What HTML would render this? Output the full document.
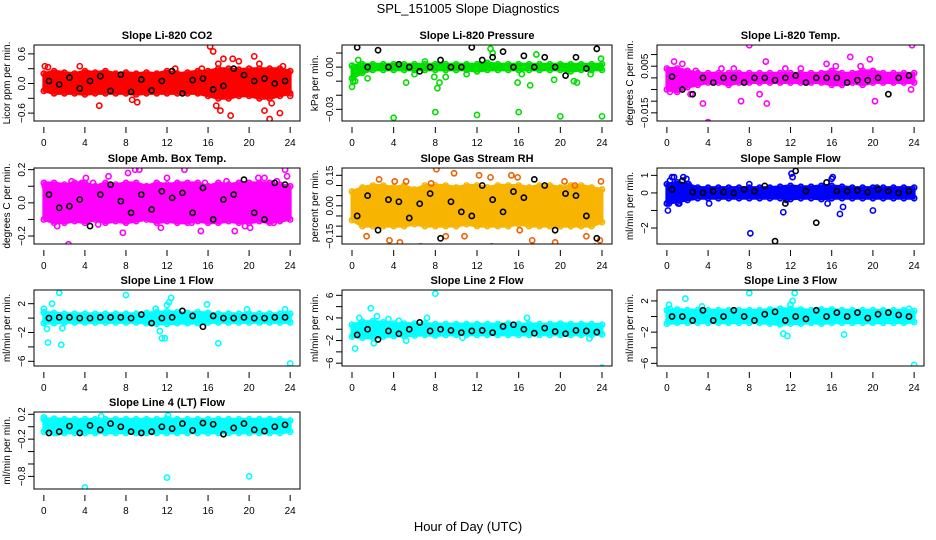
<!DOCTYPE html>
<html><head><meta charset="utf-8"><style>
body{margin:0;background:#fff}
svg{display:block;font-family:"Liberation Sans",sans-serif}
</style></head><body>
<svg id="chart" width="936" height="540" viewBox="0 0 936 540">
<text x="468" y="13" text-anchor="middle" font-size="13">SPL_151005  Slope Diagnostics</text>
<text x="468" y="531" text-anchor="middle" font-size="13">Hour of Day (UTC)</text>
</svg>
<script>
const xTicks=[0,4,8,12,16,20,24];
// Panel 1 CO2
const co2Hi=[0.2,0.25,0.22,0.2,0.25,0.22,0.25,0.2,0.22,0.2,0.22,0.2,0.25,0.2,0.22,0.25,0.25,0.3,0.3,0.28,0.3,0.3,0.3,0.3,0.25];
const co2Lo=[-0.15,-0.2,-0.2,-0.2,-0.22,-0.2,-0.2,-0.2,-0.2,-0.22,-0.2,-0.2,-0.2,-0.2,-0.2,-0.2,-0.25,-0.3,-0.3,-0.25,-0.25,-0.3,-0.3,-0.25,-0.2];
const co2OutX=[0.1,0.4,3.5,5.4,8.6,9.1,16.2,16.5,17,17.5,17.2,18.2,18.4,20.5,21.5,22,22.2,23,24,16.8,19,21,23.3,12.8,15.4];
const co2OutY=[0.35,0.33,0.35,-0.45,-0.33,-0.38,0.75,0.65,0.4,0.5,-0.55,-0.65,0.5,0.55,-0.55,-0.72,-0.4,-0.6,-0.25,-0.45,0.45,0.4,0.35,0.3,0.3];
const co2Mean=[0.05,-0.02,0.12,-0.1,0.05,0.15,-0.15,0.18,-0.17,0.08,-0.14,0.05,0.25,-0.2,0.07,0.1,-0.12,-0.05,0.3,0.17,0.05,0.1,0.0,0.05];
// Panel 2 Pressure
const presHi=[0.001,0.002,0.002,0.002,0.002,0.002,0.002,0.002,0.002,0.002,0.002,0.002,0.002,0.003,0.002,0.002,0.002,0.002,0.002,0.002,0.002,0.002,0.002,0.002,0.002];
const presLo=[-0.008,-0.004,-0.002,-0.002,-0.002,-0.002,-0.002,-0.002,-0.002,-0.002,-0.002,-0.002,-0.003,-0.002,-0.002,-0.002,-0.002,-0.002,-0.002,-0.002,-0.002,-0.003,-0.002,-0.002,-0.002];
const presOutX=[0,0.1,0.3,0.6,1.5,4,5.2,6,7,8,8.2,8.4,7.9,9,12,11,13.3,13.5,16,15.9,16.3,17.1,17.7,19.4,20,21.3,21.6,22.9,24,23.9];
const presOutY=[-0.014,-0.01,-0.01,0.005,-0.008,-0.036,-0.011,-0.005,0.004,-0.032,-0.015,-0.011,-0.007,-0.007,-0.034,-0.005,0.013,0.01,-0.032,-0.011,-0.005,-0.013,0.009,-0.009,-0.035,-0.01,-0.011,-0.005,-0.035,0.006];
const presMean=[0.014,0.0,0.012,0.0,0.002,0.0,-0.003,0.0,0.005,0.0,0.0,0.014,0.005,0.007,0.011,0.0,0.008,0.0,0.007,0.0,-0.006,0.007,-0.001,0.013];
// Panel 3 Li-820 Temp
const tmpHi=[0.004,0.004,0.003,0.002,0.002,0.002,0.002,0.002,0.002,0.002,0.002,0.002,0.002,0.002,0.002,0.002,0.003,0.002,0.002,0.003,0.003,0.002,0.002,0.002,0.002];
const tmpLo=[-0.005,-0.006,-0.004,-0.003,-0.002,-0.002,-0.003,-0.002,-0.002,-0.002,-0.002,-0.002,-0.002,-0.002,-0.002,-0.002,-0.003,-0.003,-0.002,-0.003,-0.002,-0.002,-0.002,-0.002,-0.002];
const tmpOutX=[0.3,0.7,1.5,2.3,2.8,3.5,4,7.2,8,9,9.6,9.7,11.5,15.5,16.4,17.8,19.7,20.2,23.8,23.7,5.3,6.5,13,18.8];
const tmpOutY=[-0.006,0.007,0.006,-0.007,0.003,-0.011,-0.019,-0.01,0.014,-0.007,0.007,-0.011,0.004,0.006,0.005,0.009,0.008,-0.01,0.014,-0.005,0.004,0.004,0.004,0.005];
const tmpMean=[0.0005,-0.005,-0.007,0.0,-0.002,0.0,0.0,-0.002,0.0,0.0,-0.001,0.0,0.001,-0.002,0.0,0.0,0.0,-0.002,-0.001,-0.001,0.0,-0.007,0.0,0.001];
// Panel 4 Amb Box Temp
const ambHi=[0.12,0.12,0.11,0.12,0.12,0.1,0.12,0.11,0.12,0.12,0.1,0.12,0.11,0.12,0.12,0.12,0.1,0.12,0.11,0.12,0.12,0.12,0.12,0.11,0.1];
const ambLo=[-0.1,-0.12,-0.12,-0.11,-0.12,-0.1,-0.12,-0.11,-0.12,-0.11,-0.1,-0.12,-0.11,-0.12,-0.12,-0.11,-0.12,-0.12,-0.11,-0.12,-0.12,-0.11,-0.12,-0.11,-0.1];
const ambOutX=[0.1,1.3,1.6,2.4,2.7,3.7,4.1,5.3,6.3,7.7,8.2,8.9,9.3,11.4,12,12.9,13.7,14.4,15.3,15.7,17.8,18.6,19.6,20.1,20.9,21.5,22.4,23.1,23.5,23.7,0.8,4.8,10.4,16.6,22.7];
const ambOutY=[0.1,-0.14,-0.09,-0.25,0.13,0.12,0.15,-0.13,0.16,-0.18,0.18,0.2,0.2,-0.15,0.15,-0.1,0.2,-0.12,-0.17,0.12,0.13,-0.17,-0.14,-0.15,0.15,0.15,-0.12,-0.1,0.2,0.16,-0.08,0.12,-0.1,0.09,0.13];
const ambMean=[0.05,-0.03,-0.02,0.02,-0.14,0.05,0.11,0.01,-0.06,0.05,-0.04,0.07,0.03,0.06,-0.06,0.09,-0.1,0.02,0.05,0.14,-0.06,-0.1,0.12,0.11];
// Panel 5 Gas Stream RH
const rhHi=[0.07,0.09,0.1,0.1,0.09,0.1,0.08,0.1,0.1,0.1,0.09,0.1,0.1,0.09,0.1,0.1,0.1,0.09,0.1,0.1,0.09,0.1,0.1,0.09,0.08];
const rhLo=[-0.07,-0.1,-0.1,-0.1,-0.1,-0.1,-0.09,-0.1,-0.1,-0.1,-0.1,-0.09,-0.1,-0.1,-0.1,-0.1,-0.09,-0.1,-0.1,-0.1,-0.1,-0.1,-0.1,-0.1,-0.08];
const rhOutX=[1.4,2.6,3.6,4.1,5.2,6.6,7.6,8.1,9,9.8,10.8,13.3,13.4,15.3,15.9,16.1,17.3,17.4,18.4,19.5,20.4,21.4,23.3,23.9,23.8,4.6,12.2,22.5];
const rhOutY=[-0.15,0.13,-0.17,0.12,0.12,-0.2,0.11,0.18,-0.15,0.16,-0.15,0.14,-0.2,0.15,0.14,-0.12,-0.17,-0.2,-0.22,-0.18,0.12,0.1,-0.2,0.12,-0.17,-0.18,0.15,-0.15];
const rhMean=[-0.05,0.05,-0.12,0.03,0.02,-0.06,0.01,0.06,-0.16,0.02,-0.03,-0.05,0.1,0.03,-0.03,0.07,0.04,0.13,0.1,-0.12,0.06,0.05,-0.05,-0.16];
// Panel 6 Sample Flow
const sfHi=[0.5,0.6,0.5,0.3,0.3,0.3,0.3,0.3,0.3,0.3,0.3,0.35,0.4,0.35,0.35,0.4,0.4,0.35,0.3,0.3,0.3,0.3,0.3,0.3,0.3];
const sfLo=[-0.6,-0.5,-0.4,-0.3,-0.3,-0.3,-0.3,-0.3,-0.3,-0.3,-0.3,-0.3,-0.35,-0.3,-0.3,-0.35,-0.3,-0.3,-0.3,-0.3,-0.3,-0.3,-0.3,-0.3,-0.3];
const sfOutX=[0.1,0.3,0.5,0.7,1.1,1.6,1.9,2.1,0.2,1.2,4.1,8.1,8.0,11.3,11.6,12.1,12.2,16,16.1,15.6,17.1,16.8,20,20.4,22.8];
const sfOutY=[-1,0.7,0.9,0.9,-0.6,0.9,0.8,0.5,-0.6,-0.6,-0.6,-2.3,0.5,-1.1,-0.4,1.1,0.9,0.8,0.9,-0.6,-0.8,-1.2,-1,0.3,0.1];
const sfMean=[0.2,0.7,0.05,0.0,0.1,0.05,0.0,0.2,0.1,0.4,-2.75,-0.6,1.25,0.1,-1.7,0.6,0.1,0.1,0.15,0.05,0.2,0.1,0.0,0.1];
// Panel 7 Line 1
const l1Hi=[0.8,0.7,0.6,0.6,0.6,0.6,0.6,0.6,0.6,0.6,0.7,0.8,0.9,0.8,0.7,0.8,0.7,0.6,0.6,0.6,0.6,0.6,0.6,0.6,0.6];
const l1Lo=[-0.7,-0.7,-0.6,-0.6,-0.6,-0.6,-0.6,-0.6,-0.6,-0.6,-0.7,-0.8,-0.8,-0.7,-0.7,-0.7,-0.6,-0.6,-0.6,-0.6,-0.6,-0.6,-0.6,-0.6,-0.6];
const l1OutX=[0,0.3,0.4,0.8,1.5,1.7,1.8,8,10.9,11.3,11.5,11.8,12,12.2,12.4,15.9,17,19.8,24,23.5];
const l1OutY=[1.3,-1.5,-3.4,2,3.5,-3.7,-1.4,3.2,1.3,-1.8,-2.8,-2.8,1.8,2.2,2.8,1.9,-3.5,1.2,-6.3,1.2];
const l1Mean=[0,0.1,0.1,0,0,0.1,0.1,0.1,0,0.5,-0.7,0,0.1,1,0.3,-1.2,0.3,0,0,0.1,0,0,0.1,0.1];
// Panel 8 Line 2
const l2Hi=[0.8,1.3,1.4,1.2,1.0,1.0,1.0,1.0,0.9,0.9,0.9,0.9,0.9,0.9,0.9,1.0,0.9,0.9,0.9,0.9,1.0,0.9,0.9,0.9,0.8];
const l2Lo=[-1.3,-1.5,-1.5,-1.3,-1.2,-1.2,-1.1,-1.0,-1.1,-1.0,-1.0,-1.0,-1.0,-1.0,-1.0,-1.0,-1.0,-1.0,-1.0,-1.0,-1.0,-1.0,-1.0,-1.0,-0.9];
const l2OutX=[0.3,0.7,1.8,2.1,2.4,7.2,5.2,8,16.8,24,3.5,10.6,22.8,4.5];
const l2OutY=[-3.4,2,3.7,-2.5,2.3,2.0,-2.0,6.3,2,-6.8,1.8,-1.5,-1.6,1.5];
const l2Mean=[-1,0,-1.8,-0.3,-0.8,0,1.2,-0.3,0,-0.2,-0.6,-0.3,-0.2,-0.6,0.5,0.8,0,-0.7,0.2,-0.4,-0.8,-0.2,-0.3,-0.5];
// Panel 9 Line 3
const l3Hi=[0.8,0.9,0.8,0.8,0.8,0.8,0.8,0.8,0.8,0.8,0.9,1.0,1.0,0.9,0.8,0.9,0.9,0.8,0.8,0.8,0.8,0.8,0.8,0.8,0.7];
const l3Lo=[-0.9,-0.8,-0.8,-0.8,-0.8,-0.8,-0.8,-0.8,-0.8,-0.8,-0.9,-1.0,-0.9,-0.9,-0.8,-0.9,-0.8,-0.8,-0.8,-0.8,-0.8,-0.8,-0.8,-0.8,-0.7];
const l3OutX=[0.2,0.3,1.8,8,11.3,11.7,12,12.2,12.4,17.2,24,3.4,23.5];
const l3OutY=[1.5,1,2.3,3,-2.2,-2.5,1.5,2,3,-2.3,-6.2,1.3,1];
const l3Mean=[0,0,-0.5,0.8,-0.5,0,0.8,0,-0.5,0.3,0.6,-0.5,0,-0.3,0.8,0,0.5,0,0.5,-0.2,0.3,0.5,0.2,0];
// Panel 10 Line 4
const l4Hi=[0.12,0.13,0.12,0.12,0.12,0.12,0.12,0.12,0.12,0.12,0.12,0.12,0.13,0.12,0.12,0.12,0.12,0.12,0.12,0.12,0.12,0.12,0.12,0.12,0.1];
const l4Lo=[-0.08,-0.1,-0.1,-0.1,-0.1,-0.1,-0.1,-0.1,-0.1,-0.1,-0.1,-0.1,-0.1,-0.1,-0.1,-0.1,-0.1,-0.1,-0.1,-0.1,-0.1,-0.1,-0.1,-0.1,-0.08];
const l4OutX=[0,4,12,12.1,20,1.3,5.6];
const l4OutY=[0.15,-0.98,-0.82,0.18,-0.8,-0.1,0.17];
const l4Mean=[-0.1,-0.08,0.01,-0.1,0.02,-0.05,0.05,0.0,-0.08,-0.1,-0.08,0.0,-0.03,0.05,-0.06,0.06,0.04,-0.12,-0.02,0.05,-0.05,-0.07,0.0,0.03];

const panels=[
 {name:'co2',title:'Slope Li-820 CO2',ylab:'Licor ppm per min.',col:0,row:0,ylim:[-0.76,0.78],ticks:[-0.6,-0.3,0,0.3,0.6],labels:{'-0.6':'-0.6','0':'0.0','0.6':'0.6'},color:'#ff0000',hi:co2Hi,lo:co2Lo,ox:co2OutX,oy:co2OutY,mean:co2Mean},
 {name:'pressure',title:'Slope Li-820 Pressure',ylab:'kPa per min.',col:1,row:0,ylim:[-0.0383,0.0157],ticks:[-0.03,-0.02,-0.01,0,0.01],labels:{'-0.03':'-0.03','0':'0.00'},color:'#00e000',hi:presHi,lo:presLo,ox:presOutX,oy:presOutY,mean:presMean},
 {name:'li820-temp',title:'Slope Li-820 Temp.',ylab:'degrees C per min.',col:2,row:0,ylim:[-0.0185,0.0141],ticks:[-0.015,-0.01,-0.005,0,0.005,0.01],labels:{'-0.015':'-0.015','0.005':'0.005'},color:'#ff00ff',hi:tmpHi,lo:tmpLo,ox:tmpOutX,oy:tmpOutY,mean:tmpMean},
 {name:'amb-box-temp',title:'Slope Amb. Box Temp.',ylab:'degrees C per min.',col:0,row:1,ylim:[-0.248,0.21],ticks:[-0.2,-0.1,0,0.1,0.2],labels:{'-0.2':'-0.2','0':'0.0','0.2':'0.2'},color:'#ff00ff',hi:ambHi,lo:ambLo,ox:ambOutX,oy:ambOutY,mean:ambMean},
 {name:'gas-stream-rh',title:'Slope Gas Stream RH',ylab:'percent per min.',col:1,row:1,ylim:[-0.188,0.186],ticks:[-0.15,-0.1,-0.05,0,0.05,0.1,0.15],labels:{'-0.15':'-0.15','0':'0.00','0.15':'0.15'},color:'#f7b400',stroke:'#f06000',hi:rhHi,lo:rhLo,ox:rhOutX,oy:rhOutY,mean:rhMean},
 {name:'sample-flow',title:'Slope Sample Flow',ylab:'ml/min per min.',col:2,row:1,ylim:[-2.91,1.42],ticks:[-2,-1,0,1],labels:{'-2':'-2','0':'0','1':'1'},color:'#0000ff',hi:sfHi,lo:sfLo,ox:sfOutX,oy:sfOutY,mean:sfMean},
 {name:'line1-flow',title:'Slope Line 1 Flow',ylab:'ml/min per min.',col:0,row:2,ylim:[-6.65,3.9],ticks:[-6,-4,-2,0,2],labels:{'-6':'-6','-2':'-2','2':'2'},color:'#00ffff',hi:l1Hi,lo:l1Lo,ox:l1OutX,oy:l1OutY,mean:l1Mean},
 {name:'line2-flow',title:'Slope Line 2 Flow',ylab:'ml/min per min.',col:1,row:2,ylim:[-6.5,6.94],ticks:[-6,-4,-2,0,2,4,6],labels:{'-6':'-6','-2':'-2','2':'2','6':'6'},color:'#00ffff',hi:l2Hi,lo:l2Lo,ox:l2OutX,oy:l2OutY,mean:l2Mean},
 {name:'line3-flow',title:'Slope Line 3 Flow',ylab:'ml/min per min.',col:2,row:2,ylim:[-6.34,3.4],ticks:[-6,-4,-2,0,2],labels:{'-6':'-6','-2':'-2','2':'2'},color:'#00ffff',hi:l3Hi,lo:l3Lo,ox:l3OutX,oy:l3OutY,mean:l3Mean},
 {name:'line4-flow',title:'Slope Line 4 (LT) Flow',ylab:'ml/min per min.',col:0,row:3,ylim:[-1.003,0.237],ticks:[-0.8,-0.6,-0.4,-0.2,0,0.2],labels:{'-0.8':'-0.8','-0.2':'-0.2','0.2':'0.2'},color:'#00ffff',hi:l4Hi,lo:l4Lo,ox:l4OutX,oy:l4OutY,mean:l4Mean}
];
const colX=[[34,300],[342,612],[657,924]];
const rowY=[[45,121],[168,244],[290,366],[412,489]];
const NS='http://www.w3.org/2000/svg';
const svg=document.getElementById('chart');
function mk(tag,attrs,parent){const e=document.createElementNS(NS,tag);for(const k in attrs)e.setAttribute(k,attrs[k]);parent.appendChild(e);return e;}
panels.forEach(p=>{
 const [L,R]=colX[p.col],[T,B]=rowY[p.row];
 const W=R-L,H=B-T;
 const xs=v=>L+W*(0.037+v/24*(1-0.074));
 const ys=v=>B-(v-p.ylim[0])/(p.ylim[1]-p.ylim[0])*H;
 const g=mk('g',{},svg);
 
 
 const clipId='clip-'+p.name;
 const cp=mk('clipPath',{id:clipId},g);mk('rect',{x:L,y:T,width:W,height:H},cp);
 const t=mk('text',{x:(L+R)/2,y:T-6,'text-anchor':'middle','font-size':'11','font-weight':'bold'},g);
 t.textContent=p.title;
 
 
 const yl=mk('text',{x:0,y:0,'text-anchor':'middle','font-size':'10',transform:`translate(${L-24},${(T+B)/2}) rotate(-90)`},g);
 yl.textContent=p.ylab;
 
 
 const pg=mk('g',{'clip-path':`url(#${clipId})`},g);
 let pts=p.hi.map((v,i)=>xs(i)+','+ys(v));
 for(let i=p.lo.length-1;i>=0;i--)pts.push(xs(i)+','+ys(p.lo[i]));
 const band=mk('polygon',{points:pts.join(' '),fill:p.color,stroke:p.color,'stroke-width':'3','stroke-linejoin':'round'},pg);
 
 
 p.hi.forEach((v,i)=>{
  const c1=mk('circle',{cx:xs(i),cy:ys(v),r:2.6,fill:'none',stroke:p.color,'stroke-width':1.6},pg);
  
  
  const c2=mk('circle',{cx:xs(i),cy:ys(p.lo[i]),r:2.6,fill:'none',stroke:p.color,'stroke-width':1.6},pg);
  
  
 });
 p.ox.forEach((x,i)=>{
  const c=mk('circle',{cx:xs(x),cy:ys(p.oy[i]),r:2.6,fill:'none',stroke:p.stroke||p.color,'stroke-width':1.6},pg);
  
  
 });
 p.mean.forEach((v,i)=>{
  const c=mk('circle',{cx:xs(i+0.5),cy:ys(v),r:2.6,fill:'none',stroke:'#000','stroke-width':1.6},pg);
  
  
 });
 const box=mk('rect',{x:L,y:T,width:W,height:H,fill:'none',stroke:'#000','stroke-width':1},g);
 
 
 xTicks.forEach(v=>{
  mk('line',{x1:xs(v),x2:xs(v),y1:B+6,y2:B+12,stroke:'#000'},g);
  const tl=mk('text',{x:xs(v),y:B+25,'text-anchor':'middle','font-size':'10'},g);
  tl.textContent=v;
  
  
 });
 p.ticks.forEach(v=>{
  mk('line',{x1:L-6,x2:L,y1:ys(v),y2:ys(v),stroke:'#000'},g);
  const lab=p.labels[String(v)];
  if(lab){
   const tl=mk('text',{x:0,y:0,'text-anchor':'middle','font-size':'10',transform:`translate(${L-9},${ys(v)}) rotate(-90)`},g);
   tl.textContent=lab.replace('-','\u2212');
   
   
  }
 });
});
</script>
</body></html>
